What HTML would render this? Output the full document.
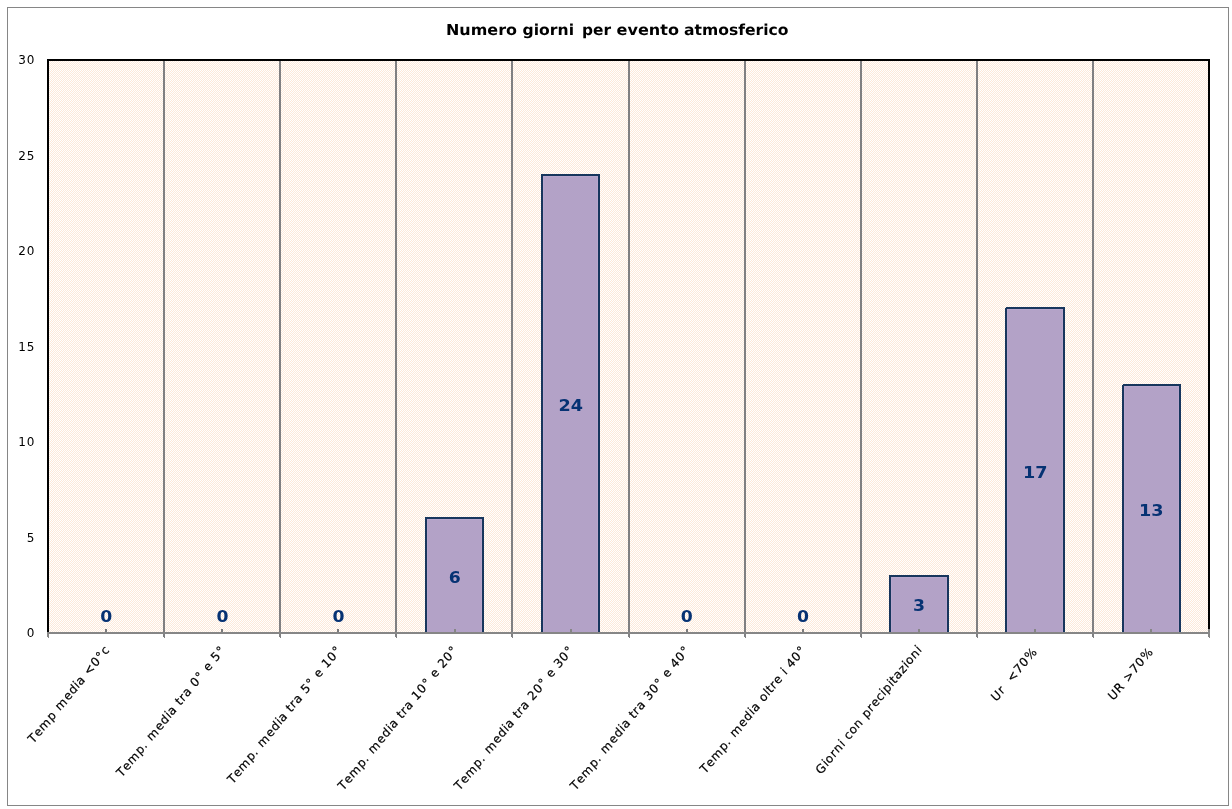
<!DOCTYPE html>
<html lang="it"><head><meta charset="utf-8"><title>Numero giorni per evento atmosferico</title>
<style>
html,body{margin:0;padding:0;background:#fff;}
body{width:1232px;height:809px;overflow:hidden;}
svg{display:block;font-family:"DejaVu Sans", "Liberation Sans", sans-serif;}
.t{text-rendering:geometricPrecision;font-size:15px;font-weight:bold;fill:#000;}
.y{font-size:12px;fill:#000;text-anchor:end;letter-spacing:0.7px;}
.xl{font-size:12px;fill:#000;white-space:pre;stroke:#000;stroke-width:0.2px;}
.d{font-size:16px;font-weight:bold;fill:#063273;text-anchor:middle;}
</style></head><body>
<svg width="1232" height="809" viewBox="0 0 1232 809">
<defs><pattern id="chk" x="0" y="0" width="2" height="2" patternUnits="userSpaceOnUse"><rect x="0" y="0" width="2" height="2" fill="#ffffff"/><rect x="1" y="0" width="1" height="1" fill="#FDE9D9"/><rect x="0" y="1" width="1" height="1" fill="#FDE9D9"/></pattern></defs>
<rect x="0" y="0" width="1232" height="809" fill="#ffffff"/>
<g shape-rendering="crispEdges">
<rect x="7.5" y="7.5" width="1221" height="798" fill="none" stroke="#868686" stroke-width="1"/>
<rect x="49" y="61" width="1159" height="571" fill="url(#chk)"/>

<rect x="163" y="61" width="2" height="576" fill="#808082"/>
<rect x="164" y="637" width="1" height="1" fill="#808082"/>
<rect x="279" y="61" width="2" height="576" fill="#808082"/>
<rect x="280" y="637" width="1" height="1" fill="#808082"/>
<rect x="395" y="61" width="2" height="576" fill="#808082"/>
<rect x="396" y="637" width="1" height="1" fill="#808082"/>
<rect x="511" y="61" width="2" height="576" fill="#808082"/>
<rect x="512" y="637" width="1" height="1" fill="#808082"/>
<rect x="628" y="61" width="2" height="576" fill="#808082"/>
<rect x="629" y="637" width="1" height="1" fill="#808082"/>
<rect x="744" y="61" width="2" height="576" fill="#808082"/>
<rect x="745" y="637" width="1" height="1" fill="#808082"/>
<rect x="860" y="61" width="2" height="576" fill="#808082"/>
<rect x="861" y="637" width="1" height="1" fill="#808082"/>
<rect x="976" y="61" width="2" height="576" fill="#808082"/>
<rect x="977" y="637" width="1" height="1" fill="#808082"/>
<rect x="1092" y="61" width="2" height="576" fill="#808082"/>
<rect x="1093" y="637" width="1" height="1" fill="#808082"/>
<rect x="47" y="632" width="1163" height="2" fill="#868686"/>
<rect x="47" y="632" width="2" height="5" fill="#868686"/>
<rect x="48" y="637" width="1" height="1" fill="#868686"/>
<rect x="1208" y="629" width="2" height="8" fill="#868686"/>
<rect x="1209" y="637" width="1" height="1" fill="#868686"/>
<rect x="47" y="59" width="1163" height="2" fill="#000"/>
<rect x="47" y="59" width="2" height="573" fill="#000"/>
<rect x="1208" y="59" width="2" height="570" fill="#000"/>
<rect x="105" y="629" width="2" height="3" fill="#7a7a7c"/>
<rect x="221" y="629" width="2" height="3" fill="#7a7a7c"/>
<rect x="337" y="629" width="2" height="3" fill="#7a7a7c"/>
<rect x="425" y="517" width="59" height="115" fill="#17365D"/>
<rect x="427" y="519" width="55" height="113" fill="#B9A7CD"/>
<rect x="428" y="520" width="53" height="112" fill="#B3A2C7"/>
<rect x="454" y="629" width="2" height="3" fill="#868686"/>
<rect x="541" y="174" width="59" height="458" fill="#17365D"/>
<rect x="543" y="176" width="55" height="456" fill="#B9A7CD"/>
<rect x="544" y="177" width="53" height="455" fill="#B3A2C7"/>
<rect x="570" y="629" width="2" height="3" fill="#868686"/>
<rect x="686" y="629" width="2" height="3" fill="#7a7a7c"/>
<rect x="802" y="629" width="2" height="3" fill="#7a7a7c"/>
<rect x="889" y="575" width="60" height="57" fill="#17365D"/>
<rect x="891" y="577" width="56" height="55" fill="#B9A7CD"/>
<rect x="892" y="578" width="54" height="54" fill="#B3A2C7"/>
<rect x="918" y="629" width="2" height="3" fill="#868686"/>
<rect x="1005" y="307" width="60" height="325" fill="#17365D"/>
<rect x="1007" y="309" width="56" height="323" fill="#B9A7CD"/>
<rect x="1008" y="310" width="54" height="322" fill="#B3A2C7"/>
<rect x="1034" y="629" width="2" height="3" fill="#868686"/>
<rect x="1005" y="307" width="1" height="1" fill="#FEF4EC"/>
<rect x="1122" y="384" width="59" height="248" fill="#17365D"/>
<rect x="1124" y="386" width="55" height="246" fill="#B9A7CD"/>
<rect x="1125" y="387" width="53" height="245" fill="#B3A2C7"/>
<rect x="1150" y="629" width="2" height="3" fill="#868686"/>
<rect x="1122" y="384" width="1" height="1" fill="#FEF4EC"/>
<rect x="47" y="632" width="1163" height="2" fill="#868686"/>
</g>
<text class="t" y="35"><tspan x="446.00" textLength="71.00" lengthAdjust="spacingAndGlyphs">Numero</tspan> <tspan x="522.60" textLength="51.40" lengthAdjust="spacingAndGlyphs">giorni</tspan> <tspan x="582.00" textLength="29.00" lengthAdjust="spacingAndGlyphs">per</tspan> <tspan x="616.60" textLength="62.40" lengthAdjust="spacingAndGlyphs">evento</tspan> <tspan x="684.00" textLength="104.50" lengthAdjust="spacingAndGlyphs">atmosferico</tspan></text>
<text class="y" x="35" y="637.0">0</text>
<text class="y" x="35" y="541.5">5</text>
<text class="y" x="35" y="446.0">10</text>
<text class="y" x="35" y="350.5">15</text>
<text class="y" x="35" y="255.0">20</text>
<text class="y" x="35" y="159.5">25</text>
<text class="y" x="35" y="64.0">30</text>
<text class="d" x="106.35" y="622.0" textLength="12" lengthAdjust="spacingAndGlyphs">0</text>
<text class="d" x="222.45" y="622.0" textLength="12" lengthAdjust="spacingAndGlyphs">0</text>
<text class="d" x="338.55" y="622.0" textLength="12" lengthAdjust="spacingAndGlyphs">0</text>
<text class="d" x="454.65" y="583.0" textLength="12" lengthAdjust="spacingAndGlyphs">6</text>
<text class="d" x="570.75" y="411.1" textLength="24.5" lengthAdjust="spacingAndGlyphs">24</text>
<text class="d" x="686.85" y="622.0" textLength="12" lengthAdjust="spacingAndGlyphs">0</text>
<text class="d" x="802.95" y="622.0" textLength="12" lengthAdjust="spacingAndGlyphs">0</text>
<text class="d" x="919.05" y="611.0" textLength="12" lengthAdjust="spacingAndGlyphs">3</text>
<text class="d" x="1035.15" y="477.9" textLength="24.5" lengthAdjust="spacingAndGlyphs">17</text>
<text class="d" x="1151.25" y="516.1" textLength="24.5" lengthAdjust="spacingAndGlyphs">13</text>
<text class="xl" xml:space="preserve" rotate="-45" x="33.1 38.3 43.3 51.5 56.7 59.7 67.9 72.9 78.1 80.4 85.5 88.5 95.4 100.7 105.3" y="744.0 737.6 731.5 721.4 715.0 711.3 701.3 695.1 688.7 685.9 679.6 676.0 667.6 661.0 655.4">Temp media &lt;0°c</text>
<text class="xl" xml:space="preserve" rotate="-45" x="121.6 126.8 131.8 140.0 145.3 148.3 151.3 159.5 164.5 169.7 172.1 177.1 180.1 183.4 187.0 192.0 195.0 200.3 204.9 207.9 212.9 215.8 221.2" y="777.8 771.5 765.3 755.2 748.8 745.0 741.4 731.4 725.2 718.8 715.9 709.7 706.1 702.0 697.6 691.4 687.8 681.2 675.6 672.0 665.8 662.2 655.6">Temp. media tra 0° e 5°</text>
<text class="xl" xml:space="preserve" rotate="-45" x="232.4 237.6 242.6 250.8 256.0 259.1 262.0 270.2 275.2 280.5 282.8 287.9 290.8 294.1 297.7 302.8 305.7 311.1 315.7 318.6 323.6 326.6 331.9 337.3" y="784.4 778.0 771.9 761.8 755.4 751.6 748.0 737.9 731.8 725.3 722.5 716.3 712.7 708.6 704.2 698.0 694.3 687.8 682.2 678.5 672.4 668.7 662.2 655.6">Temp. media tra 5° e 10°</text>
<text class="xl" xml:space="preserve" rotate="-45" x="343.1 348.3 353.3 361.5 366.8 369.8 372.8 381.0 386.0 391.2 393.5 398.6 401.6 404.9 408.5 413.5 416.5 421.8 427.2 431.8 434.7 439.7 442.7 448.0 453.4" y="791.0 784.6 778.4 768.4 762.0 758.2 754.6 744.5 738.3 731.9 729.1 722.9 719.2 715.2 710.7 704.5 700.9 694.3 687.8 682.2 678.5 672.4 668.7 662.2 655.6">Temp. media tra 10° e 20°</text>
<text class="xl" xml:space="preserve" rotate="-45" x="459.2 464.4 469.4 477.6 482.9 485.9 488.9 497.1 502.1 507.3 509.6 514.7 517.7 521.0 524.6 529.6 532.6 537.9 543.3 547.9 550.8 555.8 558.8 564.1 569.5" y="791.0 784.6 778.4 768.4 762.0 758.2 754.6 744.5 738.3 731.9 729.1 722.9 719.2 715.2 710.7 704.5 700.9 694.3 687.8 682.2 678.5 672.4 668.7 662.2 655.6">Temp. media tra 20° e 30°</text>
<text class="xl" xml:space="preserve" rotate="-45" x="575.3 580.5 585.5 593.7 599.0 602.0 605.0 613.2 618.2 623.4 625.7 630.8 633.8 637.1 640.7 645.7 648.7 654.0 659.4 664.0 666.9 671.9 674.9 680.2 685.6" y="791.0 784.6 778.4 768.4 762.0 758.2 754.6 744.5 738.3 731.9 729.1 722.9 719.2 715.2 710.7 704.5 700.9 694.3 687.8 682.2 678.5 672.4 668.7 662.2 655.6">Temp. media tra 30° e 40°</text>
<text class="xl" xml:space="preserve" rotate="-45" x="705.0 710.2 715.2 723.4 728.6 731.7 734.6 742.8 747.8 753.1 755.4 760.5 763.4 768.5 770.8 774.2 777.7 782.8 785.7 788.0 791.0 796.3 801.7" y="774.3 768.0 761.8 751.8 745.3 741.6 737.9 727.9 721.7 715.3 712.4 706.2 702.6 696.3 693.5 689.4 685.0 678.8 675.2 672.4 668.7 662.2 655.6">Temp. media oltre i 40°</text>
<text class="xl" xml:space="preserve" rotate="-45" x="820.5 827.0 829.3 834.4 838.0 843.4 845.7 848.6 853.0 858.1 863.4 866.4 871.6 875.2 880.3 884.6 886.9 892.2 894.5 897.8 902.9 907.3 909.6 914.7 920.0" y="775.1 767.1 764.2 757.9 753.5 747.0 744.2 740.5 735.1 728.9 722.3 718.7 712.3 707.8 701.7 696.3 693.5 687.0 684.2 680.1 673.9 668.5 665.6 659.4 652.8">Giorni con precipitazioni</text>
<text class="xl" xml:space="preserve" rotate="-45" x="996.1 1002.3 1005.9 1008.8 1011.8 1018.7 1024.0 1029.4" y="702.0 694.4 690.0 686.4 682.7 674.3 667.7 661.1">Ur  &lt;70%</text>
<text class="xl" xml:space="preserve" rotate="-45" x="1112.9 1119.1 1124.9 1127.9 1134.8 1140.1 1145.5" y="701.1 693.5 686.4 682.7 674.3 667.7 661.1">UR &gt;70%</text>
</svg></body></html>
